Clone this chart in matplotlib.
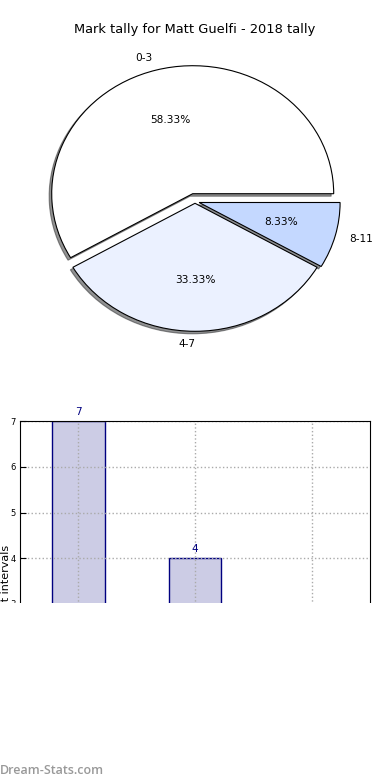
import matplotlib
matplotlib.use("Agg")
import matplotlib.pyplot as plt
from matplotlib.patches import Rectangle

# data
labels = ['0-3', '4-7', '8-11']
counts = [7, 4, 1]
title = 'Mark tally for Matt Guelfi - 2018 tally'
ylabel = 'Marks at intervals'

W, H = 390.0, 780.0
fig = plt.figure(figsize=(3.9, 7.8), dpi=100)

# pie (egg shaped, like the old matplotlib default)
ax1 = fig.add_axes([18.75 / W, 1 - 361.5 / H, 352.5 / W, 320 / H])
wedges, texts, pcts = ax1.pie(
    counts, labels=labels, explode=(0.063, 0.014, 0.03),
    colors=['#ffffff', '#ebf1ff', '#c4d8ff'], autopct='%1.2f%%',
    shadow=dict(ox=-0.013, oy=-0.014, shade=0.85), startangle=0,
    wedgeprops=dict(edgecolor='black', linewidth=0.8),
    textprops=dict(fontsize=7.6))
texts[1].set_ha('right')
ax1.set_aspect('auto')
ax1.set_xlim(-1.25, 1.25)
ax1.set_ylim(-1.25, 1.25)
fig.text(0.5, 1 - 30 / H, title, ha='center', va='center', fontsize=9.4)

# bar chart (bottom part gets cut off)
ax2 = fig.add_axes([20 / W, 1 - 741 / H, 350 / W, (741 - 421.3) / H])
x = range(len(counts))
ax2.bar(x, counts, width=0.45, color=(0, 0, 0.5, 0.2), edgecolor='navy', linewidth=1)
for i, v in zip(x, counts):
    ax2.annotate(str(v), (i, v), xytext=(0, 3), textcoords='offset points',
                 ha='center', va='bottom', color='navy', fontsize=7.5)
ax2.set_xlim(-0.5, 2.5)
ax2.set_ylim(0, 7)
ax2.set_xticks(list(x))
ax2.set_xticklabels(labels)
ax2.set_yticks(range(8))
ax2.tick_params(direction='in', length=4, labelsize=6, pad=3)
ax2.grid(True, linestyle=':', color='#aaaaaa', linewidth=1)
ax2.set_ylabel(ylabel, fontsize=8)
ax2.yaxis.set_label_coords((10.6 - 20) / 350, (741 - 595) / (741 - 421.3))

# white cover over the lower part, then the watermark
fig.patches.append(Rectangle((0, 0), 1, 1 - 603 / H, transform=fig.transFigure,
                             facecolor='white', edgecolor='none', zorder=5))
fig.text(0, 1 - 771 / H, 'Dream-Stats.com', ha='left', va='center',
         fontsize=9, family='Open Sans', fontweight='semibold',
         color='#999999', zorder=6)

fig.savefig('out.png', dpi=100)
